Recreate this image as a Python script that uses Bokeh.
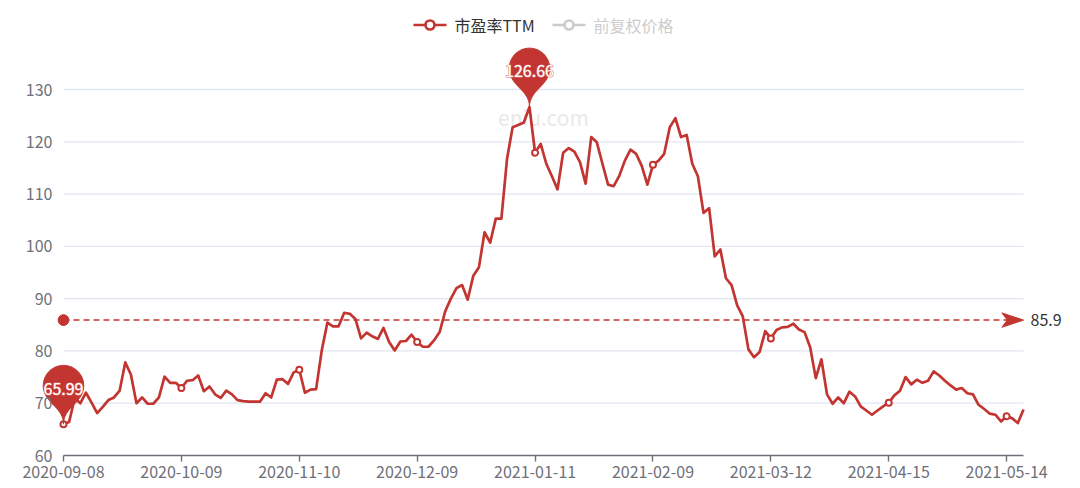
import numpy as np
import pandas as pd
from bokeh.plotting import figure
from bokeh.models import Range1d, FixedTicker
from bokeh.embed import file_html
from bokeh.resources import INLINE
from bokeh.core.properties import value

# ---------------- data ----------------
hk_holidays = ["2020-10-01", "2020-10-02", "2020-10-26", "2020-12-25", "2021-01-01",
               "2021-02-12", "2021-02-15", "2021-04-02", "2021-04-05", "2021-04-06",
               "2021-05-19"]
dates = [d.strftime("%Y-%m-%d") for d in pd.bdate_range("2020-09-08", "2021-05-20")
         if d.strftime("%Y-%m-%d") not in hk_holidays]

pe_ttm = [
    65.99, 66.4, 71.0, 70.0, 72.0, 70.1, 68.1, 69.3, 70.6, 71.1,
    72.4, 77.8, 75.5, 70.0, 71.1, 69.9, 69.9, 71.1, 75.1, 73.9,
    73.9, 72.9, 74.3, 74.4, 75.3, 72.3, 73.2, 71.7, 71.0, 72.4,
    71.7, 70.6, 70.4, 70.3, 70.3, 70.3, 71.9, 71.1, 74.5, 74.6,
    73.7, 75.9, 76.4, 72.0, 72.6, 72.7, 80.1, 85.4, 84.7, 84.7,
    87.3, 87.1, 86.1, 82.4, 83.5, 82.8, 82.3, 84.4, 81.7, 80.1,
    81.8, 81.9, 83.1, 81.7, 80.8, 80.8, 82.0, 83.6, 87.6, 90.0,
    92.0, 92.6, 89.8, 94.4, 96.0, 102.7, 100.7, 105.3, 105.3, 116.7,
    122.8, 123.2, 123.7, 126.66, 117.9, 119.6, 115.8, 113.4, 110.9, 117.9,
    118.8, 118.1, 116.1, 112.0, 120.9, 119.9, 115.8, 111.8, 111.5, 113.5,
    116.4, 118.5, 117.7, 115.4, 111.8, 115.6, 116.4, 117.7, 122.8, 124.5,
    120.9, 121.3, 115.8, 113.4, 106.4, 107.3, 98.1, 99.4, 93.9, 92.6,
    88.7, 86.6, 80.3, 78.8, 79.8, 83.8, 82.4, 84.0, 84.5, 84.6,
    85.2, 84.1, 83.6, 80.7, 74.8, 78.4, 71.7, 69.9, 71.1, 70.0,
    72.2, 71.3, 69.4, 68.6, 67.8, 68.6, 69.4, 70.1, 71.5, 72.4,
    75.0, 73.6, 74.5, 73.9, 74.3, 76.1, 75.3, 74.3, 73.4, 72.6,
    72.9, 71.9, 71.7, 69.7, 68.9, 68.0, 67.8, 66.5, 67.5, 67.1,
    66.2, 68.8,
]
avg_pe = 85.9
series_names = ["市盈率TTM", "前复权价格"]
watermark = "eniu.com"
y_ticks = [60, 70, 80, 90, 100, 110, 120, 130]
label_step = 21

n = len(pe_ttm)
dates = dates[:n]
idx = list(range(n))

# ---------------- style / layout (page pixels) ----------------
RED = "#c23531"
GRID = "#E0E6F1"
AXIS = "#6E7079"
GRAY = "#cccccc"
TXT = "#333333"
FONT = "Noto Sans CJK SC"
W, H = 1080, 488
GL, GR, GT, GB = 63, 1023, 89, 455      # value grid box
LEFT_PANEL = 30                         # y-axis panel width
PXX = (GR - GL) / (n - 1)
PXY = (GB - GT) / (y_ticks[-1] - y_ticks[0])


def px_x(page_x):
    return (page_x - GL) / PXX


def px_y(page_y):
    return y_ticks[0] + (GB - page_y) / PXY


def cubic(p0, p1, p2, p3, k=24):
    t = np.linspace(0, 1, k)[:, None]
    p0, p1, p2, p3 = map(np.array, (p0, p1, p2, p3))
    return (1 - t) ** 3 * p0 + 3 * (1 - t) ** 2 * t * p1 + 3 * (1 - t) * t ** 2 * p2 + t ** 3 * p3


def pin_poly(tx, ty, size=67.5):
    w = size * 3 / 5
    h = max(w, size)
    r = w / 2
    dy = r * r / (h - r)
    cy = -h + r + dy
    a = np.arcsin(dy / r)
    dx = np.cos(a) * r
    sx_, sy_ = np.sin(a), np.cos(a)
    cp, cp2 = r * 0.6, r * 0.7
    th = np.linspace(np.pi - a, 2 * np.pi + a, 60)
    arc = np.stack([r * np.cos(th), cy + r * np.sin(th)], axis=1)
    b1 = cubic((dx, cy + dy), (dx - sx_ * cp, cy + dy + sy_ * cp), (0, -cp2), (0, 0))
    b2 = cubic((0, 0), (0, -cp2), (-dx + sx_ * cp, cy + dy + sy_ * cp), (-dx, cy + dy))
    pts = np.concatenate([arc, b1, b2])
    return list(tx + pts[:, 0] / PXX), list(ty - pts[:, 1] / PXY), ty - cy / PXY


p = figure(width=W, height=H,
           x_range=Range1d(px_x(LEFT_PANEL), px_x(W)),
           y_range=Range1d(y_ticks[0], px_y(0)),
           output_backend="svg", toolbar_location=None,
           min_border_left=LEFT_PANEL, min_border_right=0, min_border_top=0,
           min_border_bottom=H - GB)
p.outline_line_color = None
p.background_fill_color = "white"
p.border_fill_color = "white"

# axes
p.yaxis.ticker = FixedTicker(ticks=y_ticks)
p.yaxis.axis_line_color = None
p.yaxis.major_tick_line_color = None
p.yaxis.minor_tick_line_color = None
p.yaxis.major_tick_out = 0
p.yaxis.major_tick_in = 0
p.yaxis.major_label_text_color = AXIS
p.yaxis.major_label_text_font = FONT
p.yaxis.major_label_text_font_size = "16px"
p.yaxis.major_label_standoff = -(GL - 11 - LEFT_PANEL)

p.xaxis.ticker = FixedTicker(ticks=list(range(0, n, label_step)))
p.xaxis.major_label_overrides = {i: dates[i] for i in range(0, n, label_step)}
p.xaxis.bounds = (0, n - 1)
p.xaxis.axis_line_color = AXIS
p.xaxis.axis_line_width = 1.4
p.xaxis.major_tick_line_color = AXIS
p.xaxis.major_tick_line_width = 1.4
p.xaxis.major_tick_in = 0
p.xaxis.major_tick_out = 6
p.xaxis.minor_tick_line_color = None
p.xaxis.major_label_text_color = AXIS
p.xaxis.major_label_text_font = FONT
p.xaxis.major_label_text_font_size = "16px"
p.xaxis.major_label_standoff = 4

p.xgrid.grid_line_color = None
p.ygrid.grid_line_color = None

# horizontal split lines spanning the category extent
p.segment(x0=[0] * (len(y_ticks) - 1), y0=y_ticks[1:], x1=[n - 1] * (len(y_ticks) - 1),
          y1=y_ticks[1:], line_color=GRID, line_width=1.3)

# watermark
p.text(x=[px_x(543)], y=[px_y(116)], text=[watermark], text_color="#e9e9e9",
       text_font=value(FONT), text_font_size="21px", text_align="center",
       text_baseline="middle")

# average mark line
arrow_h, arrow_w = 21.6, 7.2
p.segment(x0=[0], y0=[avg_pe], x1=[n - 1 - arrow_h * 0.75 / PXX], y1=[avg_pe],
          line_color=RED, line_width=1.5, line_dash="6 4")

# main series
p.line(idx, pe_ttm, line_color=RED, line_width=2.7, line_join="round")
p.scatter(idx[::label_step], pe_ttm[::label_step], size=6, fill_color="white",
          line_color=RED, line_width=2)

# mark line start circle, arrow and label
p.scatter([0], [avg_pe], size=10.8, fill_color=RED, line_color=RED)
arr = [(0, 0), (-arrow_h, arrow_w), (-arrow_h * 0.75, 0), (-arrow_h, -arrow_w)]
p.patch([n - 1 + a[0] / PXX for a in arr], [avg_pe + a[1] / PXY for a in arr],
        fill_color=RED, line_color=RED, line_width=1)
p.text(x=[n - 1 + 7 / PXX], y=[avg_pe], text=[f"{avg_pe}"], text_color=TXT,
       text_font=value(FONT), text_font_size="16px", text_align="left",
       text_baseline="middle")

# max / min pins
i_max = int(np.argmax(pe_ttm))
i_min = int(np.argmin(pe_ttm))
for i in (i_max, i_min):
    xs, ys, ccy = pin_poly(i, pe_ttm[i])
    p.patch(xs, ys, fill_color=RED, line_color=RED, line_width=1)
    lab = dict(x=[i], y=[ccy - 3 / PXY], text=[f"{pe_ttm[i]:.2f}"],
               text_font=value(FONT), text_font_size="16px", text_align="center",
               text_baseline="middle")
    p.text(text_color="white", text_outline_color="#e07a78", **lab)
    p.text(text_color="white", **lab)

# legend (second series is toggled off)
legend_items = [(series_names[0], RED, TXT, 413), (series_names[1], GRAY, GRAY, 552)]
ly = px_y(24.5)
for name, icol, tcol, x_start in legend_items:
    p.segment(x0=[px_x(x_start)], y0=[ly], x1=[px_x(x_start + 33)], y1=[ly],
              line_color=icol, line_width=2.7)
    p.scatter([px_x(x_start + 16.5)], [ly], size=9, fill_color="white", line_color=icol,
              line_width=2.7)
    p.text(x=[px_x(x_start + 41)], y=[ly], text=[name], text_color=tcol,
           text_font=value(FONT), text_font_size="16px", text_align="left",
           text_baseline="middle")

open("out.html", "w").write(file_html(p, INLINE))
